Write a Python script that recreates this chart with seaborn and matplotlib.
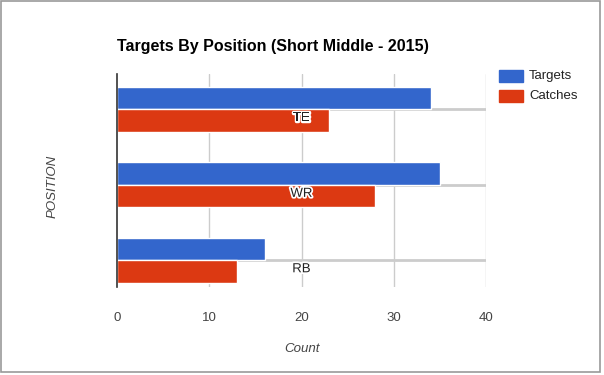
import pandas as pd
import seaborn as sns
import matplotlib.pyplot as plt
import matplotlib.patheffects as pe
from matplotlib.patches import Rectangle

# data
positions = ["TE", "WR", "RB"]
targets = [34, 35, 16]
catches = [23, 28, 13]
series_names = ["Targets", "Catches"]
x_ticks = [0, 10, 20, 30, 40]

df = pd.DataFrame({
    "Position": positions * 2,
    "Count": targets + catches,
    "Series": [series_names[0]] * 3 + [series_names[1]] * 3,
})

sns.set_style("white")
plt.rcParams["font.family"] = ["Liberation Sans", "DejaVu Sans"]

fig = plt.figure(figsize=(6.04, 3.75), dpi=100)
ax = fig.add_axes([117 / 604, 1 - 287 / 375, (486 - 117) / 604, (287 - 74) / 375])

sns.barplot(data=df, y="Position", x="Count", hue="Series", orient="h",
            palette=["#3366CC", "#DC3912"], width=0.6, saturation=1,
            ax=ax, legend=False, zorder=3)

ax.set_xlim(0, 40)
ax.set_ylim(2.355, -0.47)
ax.set_xticks(x_ticks)
ax.set_xticklabels([str(t) for t in x_ticks], color="#444444", fontsize=9.5)
ax.tick_params(axis="x", length=0, pad=18)
ax.set_yticks([])
ax.set_ylabel("")
for t in x_ticks[1:]:
    ax.axvline(t, color="#cccccc", lw=1, zorder=1)
for i in range(len(positions)):
    ax.plot([0, 40], [i, i], color="#cccccc", lw=2, zorder=2, solid_capstyle="butt")

for s in ["top", "right", "bottom"]:
    ax.spines[s].set_visible(False)
ax.spines["left"].set_color("#333333")
ax.spines["left"].set_linewidth(1.2)
ax.spines["left"].set_zorder(5)

# category labels drawn inside the plot
for i, p in enumerate(positions):
    ax.text(20, i + 0.12, p, ha="center", va="center", fontsize=9.5, color="#222222", zorder=6,
            path_effects=[pe.withStroke(linewidth=2.5, foreground="white")])

ax.set_xlabel("Count", fontstyle="italic", color="#444444", fontsize=9.5, labelpad=14)
fig.text(53 / 604, 1 - 186 / 375, "POSITION", rotation=90, ha="center", va="center",
         fontstyle="italic", color="#444444", fontsize=9.5)

fig.text(117 / 604, 1 - 46 / 375, "Targets By Position (Short Middle - 2015)",
         fontsize=11.5, fontweight="bold", color="#000000", ha="left", va="center")

# legend
for j, (name, col) in enumerate(zip(series_names, ["#3366CC", "#DC3912"])):
    y = 76 + j * 20
    fig.patches.append(Rectangle((499 / 604, 1 - (y + 6) / 375), 24 / 604, 12 / 375,
                                 transform=fig.transFigure, color=col))
    fig.text(529 / 604, 1 - y / 375, name, fontsize=9.5, color="#222222", va="center", ha="left")

# outer frame
fig.patches.append(Rectangle((1 / 604, 1 - 372 / 375), 599 / 604, 371 / 375, transform=fig.transFigure,
                             fill=False, edgecolor="#999999", lw=1.2))

fig.savefig("out.png", dpi=100)
